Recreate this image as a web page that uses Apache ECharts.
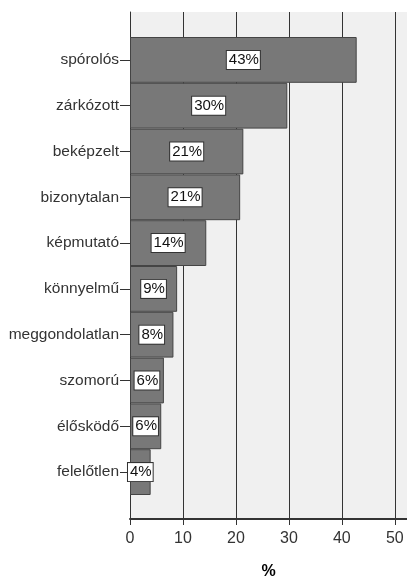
<!DOCTYPE html>
<html>
<head>
<meta charset="utf-8">
<script src="https://cdn.jsdelivr.net/npm/echarts@6/dist/echarts.min.js"></script>
<style>
  html, body { margin: 0; padding: 0; background: #fff; }
  #chart { width: 407px; height: 577px; }
</style>
</head>
<body>
<div id="chart"></div>
<script>
var categories = ["spórolós", "zárkózott", "beképzelt", "bizonytalan", "képmutató",
  "könnyelmű", "meggondolatlan", "szomorú", "élősködő", "felelőtlen"];
var percents = [42.8, 29.7, 21.4, 20.8, 14.4, 8.9, 8.2, 6.4, 5.9, 3.9];
var xTicks = [0, 10, 20, 30, 40, 50];

var font = "Liberation Sans";
var xMax = 52.3;

var chart = echarts.init(document.getElementById("chart"));

var option = {
  backgroundColor: "#fff",
  animation: false,
  grid: [
    // frame, gridlines and x axis
    { left: 130, top: 12, right: 0, bottom: 58, show: true, backgroundColor: "#f0f0f0", borderWidth: 0,
      containLabel: false, outerBoundsMode: "none" },
    // bars
    { left: 130, top: 37, right: 0, bottom: 82, containLabel: false, outerBoundsMode: "none" }
  ],
  xAxis: [
    {
      gridIndex: 0,
      type: "value",
      min: 0,
      max: xMax,
      interval: 10,
      name: "%",
      nameLocation: "middle",
      nameGap: 45,
      nameTextStyle: { fontFamily: font, fontSize: 16, fontWeight: "bold", color: "#000" },
      axisLine: { show: true, lineStyle: { color: "#333", width: 2 } },
      axisTick: { show: true, length: 6, lineStyle: { color: "#333" } },
      axisLabel: {
        fontFamily: font, fontSize: 16, color: "#333", margin: 12,
        showMaxLabel: false,
        formatter: function (v) { return xTicks.indexOf(v) >= 0 ? v : ""; }
      },
      splitLine: { show: true, lineStyle: { color: "#333", width: 1 } }
    },
    {
      gridIndex: 1,
      type: "value",
      min: 0,
      max: xMax,
      show: false
    }
  ],
  yAxis: [
    {
      gridIndex: 0,
      type: "value",
      min: 0,
      max: 1,
      axisLine: { show: true, lineStyle: { color: "#333", width: 1 } },
      axisTick: { show: false },
      axisLabel: { show: false },
      splitLine: { show: false }
    },
    {
      gridIndex: 1,
      type: "category",
      inverse: true,
      data: categories,
      axisLine: { show: false },
      axisTick: { show: true, length: 10, alignWithLabel: true, lineStyle: { color: "#333" } },
      axisLabel: { fontFamily: font, fontSize: 15.5, color: "#333", margin: 11 }
    }
  ],
  series: [
    {
      type: "bar",
      xAxisIndex: 1,
      yAxisIndex: 1,
      data: percents,
      barCategoryGap: 0,
      itemStyle: { color: "#787878", borderColor: "#444", borderWidth: 1 },
      label: {
        show: true,
        position: "inside",
        fontFamily: font,
        fontSize: 15,
        color: "#111",
        backgroundColor: "#fff",
        borderColor: "#333",
        borderWidth: 1,
        padding: [2, 1, 1, 2],
        formatter: function (p) { return Math.round(p.value) + "%"; }
      }
    }
  ]
};

chart.setOption(option);
</script>
</body>
</html>
